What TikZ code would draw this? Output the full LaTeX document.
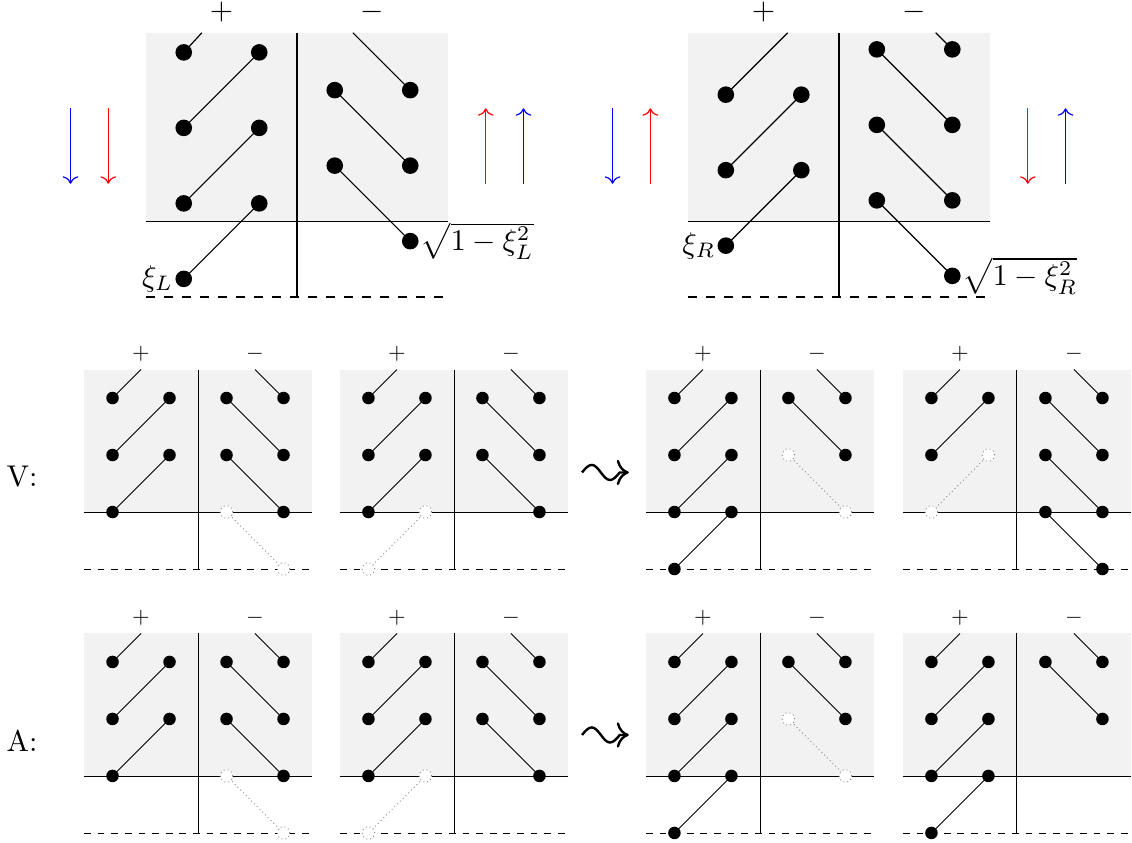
\documentclass[tikz,border=0pt]{standalone}
\usepackage{amsmath,amssymb}
\usepackage{tikz}
\usetikzlibrary{arrows.meta}
\definecolor{panelgray}{RGB}{242,242,242}

\tikzset{
  ghostbead/.style={draw=gray, densely dotted, fill=white},
  ghostlink/.style={gray, densely dotted},
  floor/.style={dash pattern=on 3pt off 3pt},
  sign/.style={above, inner sep=0pt, yshift=3.33pt},
  squiggle/.style={thick, -{To[scale=1.2]}},
  smallpanel/.style={scale=0.755, transform shape, line width=0.3pt,
    floor/.style={dash pattern=on 2.27pt off 2.27pt}},
}

% frame of one panel: shaded box, axes, dashed floor, signs
\newcommand{\chainframe}{%
  \fill[panelgray] (-2,1) rectangle (2,3.5);
  \draw (-2,1) -- (2,1);
  \draw (0,0) -- (0,3.5);
  \draw[floor] (-2,0) -- (2,0);
  \node[sign] at (-1,3.5) {$+$};
  \node[sign] at (1,3.5) {$-$};
}
\newcommand{\bead}[1]{\fill #1 circle (0.11);}
\newcommand{\ghostpair}[2]{%
  \draw[ghostlink] #1 -- #2;
  \draw[ghostbead] #1 circle (0.11);
  \draw[ghostbead] #2 circle (0.11);
}
% the usual halves of the small panels
\newcommand{\plushalf}{%
  \draw (-1.5,3) -- (-1,3.5);
  \draw (-1.5,2) -- (-0.5,3);
  \draw (-1.5,1) -- (-0.5,2);
  \bead{(-1.5,1)} \bead{(-1.5,2)} \bead{(-1.5,3)}
  \bead{(-0.5,2)} \bead{(-0.5,3)}
}
\newcommand{\pluslong}{%
  \plushalf
  \draw (-1.5,0) -- (-0.5,1);
  \bead{(-1.5,0)} \bead{(-0.5,1)}
}
\newcommand{\minushalf}{%
  \draw (1.5,3) -- (1,3.5);
  \draw (0.5,3) -- (1.5,2);
  \draw (0.5,2) -- (1.5,1);
  \bead{(0.5,2)} \bead{(0.5,3)}
  \bead{(1.5,1)} \bead{(1.5,2)} \bead{(1.5,3)}
}
\newcommand{\minusshort}{%
  \draw (1.5,3) -- (1,3.5);
  \draw (0.5,3) -- (1.5,2);
  \bead{(0.5,3)} \bead{(1.5,2)} \bead{(1.5,3)}
}

\begin{document}
\begin{tikzpicture}[x=0.8845cm, y=0.8845cm]
    \useasboundingbox (-3.934,-7.232) rectangle (11.060,3.934);

    % left sample
    \chainframe
    \draw (-1.5,3.24) -- (-1.26,3.5);
    \draw (-1.5,2.24) -- (-0.5,3.24);
    \draw (-1.5,1.24) -- (-0.5,2.24);
    \draw (-1.5,0.24) -- (-0.5,1.24);
    \draw (1.5,2.74) -- (0.74,3.5);
    \draw (0.5,2.74) -- (1.5,1.74);
    \draw (0.5,1.74) -- (1.5,0.74);
    \bead{(-1.5,0.24)} \bead{(-1.5,1.24)} \bead{(-1.5,2.24)} \bead{(-1.5,3.24)}
    \bead{(-0.5,1.24)} \bead{(-0.5,2.24)} \bead{(-0.5,3.24)}
    \bead{(0.5,1.74)} \bead{(0.5,2.74)}
    \bead{(1.5,0.74)} \bead{(1.5,1.74)} \bead{(1.5,2.74)}
    \node (xiL) [left] at (-1.5,0.24) {$\xi_L$};
    \node (etaL) [right] at (1.5,0.74) {$\sqrt{1-\xi_L^2}$};
    \draw[->,blue] (-3,2.5) -- (-3,1.5);
    \draw[->,red] (-2.5,2.5) -- (-2.5,1.5);
    \draw[->,red] (2.5,1.5) -- (2.5,2.5);
    \draw[->,blue] (3,1.5) -- (3,2.5);

    % right sample
    \begin{scope}[shift={(7.18,0)}]
    \chainframe
    \draw (-1.5,2.68) -- (-0.68,3.5);
    \draw (-1.5,1.68) -- (-0.5,2.68);
    \draw (-1.5,0.68) -- (-0.5,1.68);
    \draw (1.5,3.28) -- (1.28,3.5);
    \draw (0.5,3.28) -- (1.5,2.28);
    \draw (0.5,2.28) -- (1.5,1.28);
    \draw (0.5,1.28) -- (1.5,0.28);
    \bead{(-1.5,0.68)} \bead{(-1.5,1.68)} \bead{(-1.5,2.68)}
    \bead{(-0.5,1.68)} \bead{(-0.5,2.68)}
    \bead{(0.5,1.28)} \bead{(0.5,2.28)} \bead{(0.5,3.28)}
    \bead{(1.5,0.28)} \bead{(1.5,1.28)} \bead{(1.5,2.28)} \bead{(1.5,3.28)}
    \node (xiR) [left] at (-1.5,0.68) {$\xi_R$};
    \node (etaR) [right] at (1.5,0.28) {$\sqrt{1-\xi_R^2}$};
    \draw[->,blue] (-3,2.5) -- (-3,1.5);
    \draw[->,red] (-2.5,1.5) -- (-2.5,2.5);
    \draw[->,red] (2.5,2.5) -- (2.5,1.5);
    \draw[->,blue] (3,1.5) -- (3,2.5);
    \end{scope}

    % V row
    \node (vlabel) at (-3.642,-2.384) {V:};
    \coordinate (vsq) at (3.775,-2.324);
    \draw[squiggle] (vsq) sin ++(0.13,0.1) cos ++(0.12,-0.1)
        sin ++(0.12,-0.1) cos ++(0.13,0.1) -- ++(0.12,0);
    \begin{scope}[shift={(-1.311,-3.603)}, smallpanel]
    \chainframe \plushalf \minushalf
    \ghostpair{(0.5,1)}{(1.5,0)}
    \end{scope}
    \begin{scope}[shift={(2.079,-3.603)}, smallpanel]
    \chainframe \plushalf \minushalf
    \ghostpair{(-0.5,1)}{(-1.5,0)}
    \end{scope}
    \begin{scope}[shift={(6.132,-3.603)}, smallpanel]
    \chainframe \pluslong \minusshort
    \ghostpair{(0.5,2)}{(1.5,1)}
    \end{scope}
    \begin{scope}[shift={(9.536,-3.603)}, smallpanel]
    \chainframe
    \draw (-1.5,3) -- (-1,3.5);
    \draw (-1.5,2) -- (-0.5,3);
    \bead{(-1.5,2)} \bead{(-1.5,3)} \bead{(-0.5,3)}
    \ghostpair{(-0.5,2)}{(-1.5,1)}
    \minushalf
    \draw (0.5,1) -- (1.5,0);
    \bead{(0.5,1)} \bead{(1.5,0)}
    \end{scope}

    % A row
    \node (alabel) at (-3.642,-5.881) {A:};
    \coordinate (asq) at (3.775,-5.801);
    \draw[squiggle] (asq) sin ++(0.13,0.1) cos ++(0.12,-0.1)
        sin ++(0.12,-0.1) cos ++(0.13,0.1) -- ++(0.12,0);
    \begin{scope}[shift={(-1.311,-7.099)}, smallpanel]
    \chainframe \plushalf \minushalf
    \ghostpair{(0.5,1)}{(1.5,0)}
    \end{scope}
    \begin{scope}[shift={(2.079,-7.099)}, smallpanel]
    \chainframe \plushalf \minushalf
    \ghostpair{(-0.5,1)}{(-1.5,0)}
    \end{scope}
    \begin{scope}[shift={(6.132,-7.099)}, smallpanel]
    \chainframe \pluslong \minusshort
    \ghostpair{(0.5,2)}{(1.5,1)}
    \end{scope}
    \begin{scope}[shift={(9.536,-7.099)}, smallpanel]
    \chainframe \pluslong \minusshort
    \end{scope}
\end{tikzpicture}
\end{document}
